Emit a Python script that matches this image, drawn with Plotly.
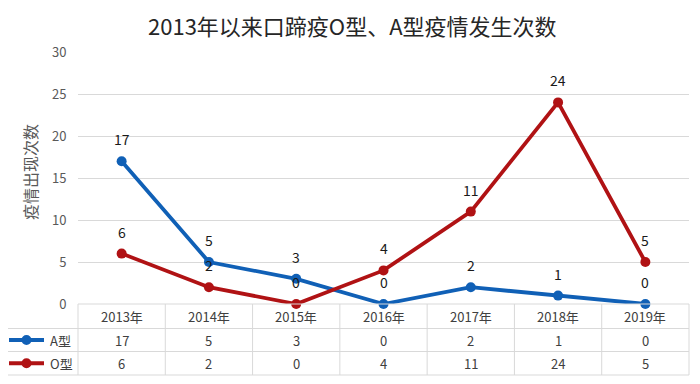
import plotly.graph_objects as go

years = ["2013年", "2014年", "2015年", "2016年", "2017年", "2018年", "2019年"]
series_names = ["A型", "O型"]
a_values = [17, 5, 3, 0, 2, 1, 0]
o_values = [6, 2, 0, 4, 11, 24, 5]
colors = ["#1060B6", "#B01214"]
title = "2013年以来口蹄疫O型、A型疫情发生次数"
y_title = "疫情出现次数"

# the page body adds an 8px margin; work in reference pixel coords and shift
OFF = 8
W, H = 700 - OFF, 384 - OFF
PL, PR, PT, PB = 78, 689, 52, 304  # plot area in reference pixels
L, R, T, B = PL - OFF, 700 - PR, PT - OFF, 384 - PB
plot_w = PR - PL
plot_h = PB - PT
font_cjk = "Noto Sans CJK SC"
txt_col = "#404040"
grid_col = "#D9D9D9"

x_idx = list(range(len(years)))
fig = go.Figure()
for name, vals, col in zip(series_names, [a_values, o_values], colors):
    fig.add_trace(go.Scatter(
        x=x_idx, y=vals, mode="lines+markers", name=name,
        line=dict(color=col, width=3.8),
        marker=dict(color=col, size=10),
        cliponaxis=False, showlegend=False,
    ))

annotations = []
for vals in [a_values, o_values]:
    for i, v in enumerate(vals):
        annotations.append(dict(x=i, y=v, xref="x", yref="y", text=str(v),
                                showarrow=False, yshift=22,
                                xanchor="center", yanchor="middle",
                                font=dict(size=14, color="#1a1a1a", family=font_cjk)))

def py(p):
    return (PB - p) / plot_h

def px(p):
    return (p - PL) / plot_w

n = len(years)
row_tops = [304, 328.5, 351.5, 375]
shapes = []
line_style = dict(color=grid_col, width=1)
legend_left = px(5)
# horizontal lines
shapes.append(dict(type="line", xref="paper", yref="paper", x0=0, x1=1,
                   y0=py(row_tops[0]), y1=py(row_tops[0]), line=line_style))
for p in row_tops[1:]:
    shapes.append(dict(type="line", xref="paper", yref="paper", x0=legend_left, x1=1,
                       y0=py(p), y1=py(p), line=line_style))
# vertical lines
for i in range(n + 1):
    shapes.append(dict(type="line", xref="paper", yref="paper", x0=i / n, x1=i / n,
                       y0=py(row_tops[0]), y1=py(row_tops[-1]), line=line_style))
shapes.append(dict(type="line", xref="paper", yref="paper", x0=legend_left, x1=legend_left,
                   y0=py(row_tops[1]), y1=py(row_tops[-1]), line=line_style))

# header row
for i, yr in enumerate(years):
    annotations.append(dict(x=(i + 0.5) / n, y=py((row_tops[0] + row_tops[1]) / 2),
                            xref="paper", yref="paper", text=yr, showarrow=False,
                            xanchor="center", yanchor="middle",
                            font=dict(size=13, color=txt_col, family=font_cjk)))
# data rows
for r, (name, vals, col) in enumerate(zip(series_names, [a_values, o_values], colors)):
    yc = py((row_tops[r + 1] + row_tops[r + 2]) / 2)
    for i, v in enumerate(vals):
        annotations.append(dict(x=(i + 0.5) / n, y=yc, xref="paper", yref="paper",
                                text=str(v), showarrow=False,
                                xanchor="center", yanchor="middle",
                                font=dict(size=13, color=txt_col, family=font_cjk)))
    # legend key
    shapes.append(dict(type="line", xref="paper", yref="paper", x0=px(9), x1=px(44),
                       y0=yc, y1=yc, line=dict(color=col, width=3.8)))
    shapes.append(dict(type="circle", xref="paper", yref="paper",
                       x0=px(21.5), x1=px(31.5),
                       y0=yc - 5 / plot_h, y1=yc + 5 / plot_h,
                       fillcolor=col, line=dict(color=col, width=0)))
    annotations.append(dict(x=px(48), y=yc, xref="paper", yref="paper",
                            text=name, showarrow=False, xanchor="left", yanchor="middle",
                            font=dict(size=13, color=txt_col, family=font_cjk)))

# y-axis title
annotations.append(dict(x=px(30), y=py(172), xref="paper", yref="paper",
                        text=y_title, showarrow=False, textangle=-90,
                        xanchor="center", yanchor="middle",
                        font=dict(size=16, color="#595959", family=font_cjk)))
# chart title
annotations.append(dict(x=px(352), y=py(25), xref="paper", yref="paper",
                        text=title, showarrow=False, xanchor="center", yanchor="middle",
                        font=dict(size=22, color="#262626", family=font_cjk)))

fig.update_layout(
    width=W, height=H,
    margin=dict(l=L, r=R, t=T, b=B, autoexpand=False),
    paper_bgcolor="white", plot_bgcolor="white",
    xaxis=dict(range=[-0.5, n - 0.5], showticklabels=False, showgrid=False,
               zeroline=False, showline=False, ticks="", automargin=False),
    yaxis=dict(range=[0, 30], tickvals=[0, 5, 10, 15, 20, 25, 30], showgrid=True,
               gridcolor=grid_col, gridwidth=1, zeroline=False, showline=False,
               tickfont=dict(size=13, color="#595959", family=font_cjk),
               ticks="outside", ticklen=8, tickcolor="rgba(0,0,0,0)", automargin=False),
    annotations=annotations,
    shapes=shapes,
)
fig.write_html("out.html")
